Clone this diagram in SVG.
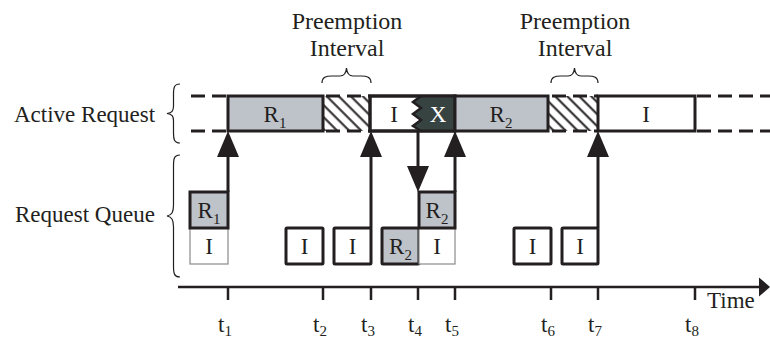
<svg xmlns="http://www.w3.org/2000/svg" width="770" height="341" viewBox="0 0 770 341">
  <style>
    .lbl { font-family: "Liberation Serif", "Times New Roman", serif; font-size: 23px; fill: #231f20; }
    .big { font-size: 24px; }
    .sub { font-size: 15px; }
    .box { stroke: #231f20; stroke-width: 3; }
    .thin { stroke: #8a8a8a; stroke-width: 1.2; fill: #ffffff; }
    .req { fill: #bec2c9; }
    .idle { fill: #ffffff; }
    .dash { stroke: #231f20; stroke-width: 3; fill: none; stroke-dasharray: 14 7; }
    .brace { stroke: #231f20; stroke-width: 1.2; fill: none; }
    .axis { stroke: #231f20; stroke-width: 2.5; fill: none; }
    .conn { stroke: #231f20; stroke-width: 3; fill: none; }
  </style>
  <defs>
    <pattern id="hatch" patternUnits="userSpaceOnUse" width="8.5" height="10" patternTransform="rotate(-45)">
      <line x1="1.5" y1="0" x2="1.5" y2="10" stroke="#231f20" stroke-width="2"/>
    </pattern>
    <marker id="head" markerUnits="userSpaceOnUse" markerWidth="26" markerHeight="22" viewBox="0 0 26 22" refX="20" refY="11" orient="auto">
      <path d="M0,0 L26,11 L0,22 z" fill="#231f20"/>
    </marker>
  </defs>

  <rect width="770" height="341" fill="#ffffff"/>

  <!-- row labels with braces -->
  <g id="label-active">
    <text class="lbl" x="14" y="122">Active Request</text>
    <path class="brace" d="M180,84 C174,84 173.5,88 173.5,94 L173.5,106 C173.5,111 172,113 167,113.5 C172,114 173.5,116 173.5,121 L173.5,133 C173.5,139 174,143 180,143"/>
  </g>
  <g id="label-queue">
    <text class="lbl" x="15" y="222">Request Queue</text>
    <path class="brace" d="M180,155 C174,155 173.5,159 173.5,166 L173.5,205 C173.5,212 172,215 167,216 C172,217 173.5,220 173.5,227 L173.5,266 C173.5,273 174,277 180,277"/>
  </g>

  <!-- preemption interval annotations -->
  <g id="preempt-1">
    <text class="lbl big" x="347" y="29" text-anchor="middle">Preemption</text>
    <text class="lbl big" x="347" y="56" text-anchor="middle">Interval</text>
    <path class="brace" d="M322,83 C322,77 326,76 332,76 L340,76 C344,76 346,74 346.5,68 C347,74 349,76 353,76 L361,76 C367,76 371,77 371,83"/>
  </g>
  <g id="preempt-2">
    <text class="lbl big" x="575" y="29" text-anchor="middle">Preemption</text>
    <text class="lbl big" x="575" y="56" text-anchor="middle">Interval</text>
    <path class="brace" d="M551,83 C551,77 555,76 561,76 L568,76 C572,76 574,74 574.5,68 C575,74 577,76 581,76 L588,76 C594,76 598,77 598,83"/>
  </g>

  <!-- active request timeline -->
  <g id="active-lead">
    <line class="dash" x1="191" y1="96" x2="228" y2="96"/>
    <line class="dash" x1="191" y1="131" x2="228" y2="131"/>
  </g>
  <g id="active-r1">
    <rect class="box req" x="228" y="96" width="95" height="35"/>
    <text class="lbl" x="275" y="122" text-anchor="middle">R<tspan class="sub" dy="6">1</tspan></text>
  </g>
  <g id="active-preempt-1">
    <rect x="323" y="96" width="47" height="35" fill="url(#hatch)"/>
    <line class="dash" x1="326" y1="96" x2="370" y2="96" stroke-dasharray="12 6"/>
    <line class="dash" x1="326" y1="131" x2="370" y2="131" stroke-dasharray="12 6"/>
  </g>
  <g id="active-i-x">
    <rect class="box idle" x="370" y="96" width="85" height="35"/>
    <path d="M421,96 L413,102 L421,108 L413,114 L421,120 L413,126 L421,131 L455,131 L455,96 z" fill="#374341"/>
    <polyline points="421,96 413,102 421,108 413,114 421,120 413,126 421,131" fill="none" stroke="#231f20" stroke-width="2.5"/>
    <rect x="370" y="96" width="85" height="35" fill="none" class="box"/>
    <text class="lbl" x="394" y="122" text-anchor="middle">I</text>
    <text class="lbl" x="438" y="122" text-anchor="middle" style="fill:#ffffff">X</text>
  </g>
  <g id="active-r2">
    <rect class="box req" x="455" y="96" width="93" height="35"/>
    <text class="lbl" x="501" y="122" text-anchor="middle">R<tspan class="sub" dy="6">2</tspan></text>
  </g>
  <g id="active-preempt-2">
    <rect x="548" y="96" width="50" height="35" fill="url(#hatch)"/>
    <line class="dash" x1="552" y1="96" x2="598" y2="96" stroke-dasharray="12 6"/>
    <line class="dash" x1="552" y1="131" x2="598" y2="131" stroke-dasharray="12 6"/>
  </g>
  <g id="active-i">
    <rect class="box idle" x="598" y="96" width="97" height="35"/>
    <text class="lbl" x="646" y="122" text-anchor="middle">I</text>
  </g>
  <g id="active-trail">
    <line class="dash" x1="697" y1="96" x2="770" y2="96" stroke-dasharray="16 8"/>
    <line class="dash" x1="697" y1="131" x2="770" y2="131" stroke-dasharray="16 8"/>
  </g>

  <!-- request queue snapshots -->
  <g id="queue-t1">
    <rect class="thin" x="190" y="228" width="38" height="36"/>
    <text class="lbl" x="209" y="254" text-anchor="middle">I</text>
    <rect class="box req" x="190" y="192" width="38" height="36"/>
    <text class="lbl" x="209" y="218" text-anchor="middle">R<tspan class="sub" dy="6">1</tspan></text>
  </g>
  <g id="queue-t2">
    <rect class="box idle" x="286" y="228" width="37" height="36" rx="1"/>
    <text class="lbl" x="304.5" y="254" text-anchor="middle">I</text>
  </g>
  <g id="queue-t3">
    <rect class="box idle" x="334" y="228" width="37" height="36" rx="1"/>
    <text class="lbl" x="352.5" y="254" text-anchor="middle">I</text>
  </g>
  <g id="queue-t4">
    <rect class="box req" x="382" y="228" width="37" height="36" rx="1"/>
    <text class="lbl" x="400.5" y="254" text-anchor="middle">R<tspan class="sub" dy="6">2</tspan></text>
  </g>
  <g id="queue-t5">
    <rect class="thin" x="419" y="228" width="36" height="36"/>
    <text class="lbl" x="437" y="254" text-anchor="middle">I</text>
    <rect class="box req" x="419" y="192" width="36" height="36"/>
    <text class="lbl" x="437" y="218" text-anchor="middle">R<tspan class="sub" dy="6">2</tspan></text>
  </g>
  <g id="queue-t6">
    <rect class="box idle" x="514" y="228" width="37" height="36" rx="1"/>
    <text class="lbl" x="532.5" y="254" text-anchor="middle">I</text>
  </g>
  <g id="queue-t7">
    <rect class="box idle" x="562" y="228" width="36" height="36" rx="1"/>
    <text class="lbl" x="580" y="254" text-anchor="middle">I</text>
  </g>

  <!-- transfers between queue and active request -->
  <g id="connectors">
    <line class="conn" x1="228" y1="192" x2="228" y2="137" marker-end="url(#head)"/>
    <line class="conn" x1="371" y1="228" x2="371" y2="137" marker-end="url(#head)"/>
    <line class="conn" x1="418" y1="131" x2="418" y2="186" marker-end="url(#head)"/>
    <line class="conn" x1="455" y1="192" x2="455" y2="137" marker-end="url(#head)"/>
    <line class="conn" x1="598" y1="228" x2="598" y2="137" marker-end="url(#head)"/>
  </g>

  <!-- time axis -->
  <g id="time-axis">
    <line class="axis" x1="178" y1="287" x2="762" y2="287"/>
    <path d="M759,277.5 L770,287 L759,296.5 z" fill="#231f20"/>
    <g class="axis">
      <line x1="228" y1="287" x2="228" y2="300"/>
      <line x1="323" y1="287" x2="323" y2="300"/>
      <line x1="371" y1="287" x2="371" y2="300"/>
      <line x1="418" y1="287" x2="418" y2="300"/>
      <line x1="455" y1="287" x2="455" y2="300"/>
      <line x1="551" y1="287" x2="551" y2="300"/>
      <line x1="598" y1="287" x2="598" y2="300"/>
      <line x1="695" y1="287" x2="695" y2="300"/>
    </g>
    <text class="lbl" x="707" y="308">Time</text>
    <text class="lbl" x="218" y="332">t<tspan class="sub" dy="4">1</tspan></text>
    <text class="lbl" x="313" y="332">t<tspan class="sub" dy="4">2</tspan></text>
    <text class="lbl" x="361" y="332">t<tspan class="sub" dy="4">3</tspan></text>
    <text class="lbl" x="408" y="332">t<tspan class="sub" dy="4">4</tspan></text>
    <text class="lbl" x="445" y="332">t<tspan class="sub" dy="4">5</tspan></text>
    <text class="lbl" x="541" y="332">t<tspan class="sub" dy="4">6</tspan></text>
    <text class="lbl" x="588" y="332">t<tspan class="sub" dy="4">7</tspan></text>
    <text class="lbl" x="685" y="332">t<tspan class="sub" dy="4">8</tspan></text>
  </g>
</svg>
